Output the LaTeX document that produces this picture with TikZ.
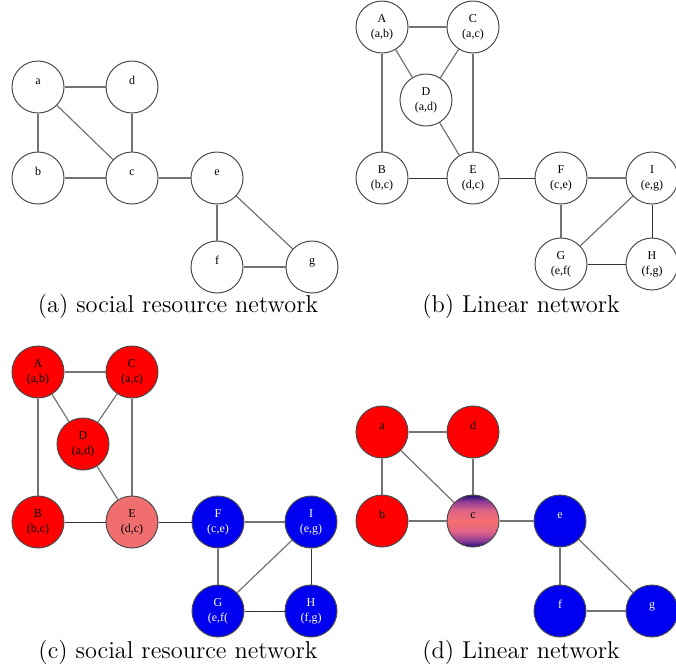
\documentclass[tikz,border=0pt]{standalone}
\usepackage{fontspec}
\newfontfamily\vtxfont{Liberation Serif}
\usepackage{xcolor}
\definecolor{nodered}{RGB}{255,0,0}
\definecolor{nodeblue}{RGB}{0,0,240}
\definecolor{lightred}{RGB}{240,110,110}
\definecolor{deeppurple}{RGB}{30,10,110}
\definecolor{midpurple}{RGB}{140,60,150}
\definecolor{pinkish}{RGB}{225,100,135}
\definecolor{salmon}{RGB}{245,112,112}
\definecolor{edgegray}{RGB}{115,115,115}
\pgfdeclareverticalshading{cband}{100bp}{color(0bp)=(deeppurple); color(25bp)=(deeppurple);
  color(31bp)=(midpurple); color(40bp)=(pinkish); color(50bp)=(salmon); color(60bp)=(pinkish);
  color(69bp)=(midpurple); color(75bp)=(deeppurple); color(100bp)=(deeppurple)}

\begin{document}
\begin{tikzpicture}[
    x=0.5pt,
    y=-0.5pt,
    every node/.style={font=\vtxfont\fontsize{6}{7.5}\selectfont},
    vertex/.style={draw=black!70, circle, minimum size=26pt, inner sep=0pt, align=center, line width=0.5pt},
    upper/.style={text height=3pt, text depth=6pt},
    redv/.style={vertex, fill=nodered},
    bluev/.style={vertex, fill=nodeblue, text=white},
    pinkv/.style={vertex, fill=lightred},
    mixv/.style={vertex, shading=cband},
    link/.style={draw=edgegray, line width=0.6pt},
    darklink/.style={draw=black!80, line width=0.5pt},
    caption/.style={font=\fontsize{12.2}{14}\selectfont}
]
    \useasboundingbox (0,0) rectangle (676,666);

    \node[vertex, upper] (na) at (38,87) {a};
    \node[vertex, upper] (nd) at (132,87) {d};
    \node[vertex, upper] (nb) at (38,178) {b};
    \node[vertex, upper] (nc) at (132,178) {c};
    \node[vertex, upper] (ne) at (217,178) {e};
    \node[vertex, upper] (nf) at (217,267) {f};
    \node[vertex, upper] (ng) at (312,267) {g};
    \draw[link] (na) -- (nd);
    \draw[link] (na) -- (nb);
    \draw[link] (na) -- (nc);
    \draw[link] (nd) -- (nc);
    \draw[link] (nb) -- (nc);
    \draw[link] (nc) -- (ne);
    \draw[link] (ne) -- (nf);
    \draw[link] (ne) -- (ng);
    \draw[link] (nf) -- (ng);
    \node[caption] (capa) at (178,306) {(a) social resource network};

    \node[vertex] (lA) at (382,27) {A\\(a,b)};
    \node[vertex] (lC) at (473,27) {C\\(a,c)};
    \node[vertex] (lD) at (426,100) {D\\(a,d)};
    \node[vertex] (lB) at (382,178) {B\\(b,c)};
    \node[vertex] (lE) at (473,178) {E\\(d,c)};
    \node[vertex] (lF) at (561,178) {F\\(c,e)};
    \node[vertex] (lI) at (652,178) {I\\(e,g)};
    \node[vertex] (lG) at (561,264) {G\\(e,f(};
    \node[vertex] (lH) at (652,264) {H\\(f,g)};
    \draw[link] (lA) -- (lC);
    \draw[link] (lA) -- (lD);
    \draw[link] (lC) -- (lD);
    \draw[link] (lC) -- (lE);
    \draw[link] (lA) -- (lB);
    \draw[link] (lD) -- (lE);
    \draw[darklink] (lB) -- (lE);
    \draw[darklink] (lE) -- (lF);
    \draw[link] (lF) -- (lI);
    \draw[link] (lF) -- (lG);
    \draw[link] (lG) -- (lI);
    \draw[darklink] (lI) -- (lH);
    \draw[darklink] (lG) -- (lH);
    \node[caption] (capb) at (521,306) {(b) Linear network};

    \node[redv] (cA) at (38,372) {A\\(a,b)};
    \node[redv] (cC) at (132,372) {C\\(a,c)};
    \node[redv] (cD) at (83,444) {D\\(a,d)};
    \node[redv] (cB) at (38,522) {B\\(b,c)};
    \node[pinkv] (cE) at (132,522) {E\\(d,c)};
    \node[bluev] (cF) at (218,522) {F\\(c,e)};
    \node[bluev] (cI) at (311,522) {I\\(e,g)};
    \node[bluev] (cG) at (218,611) {G\\(e,f(};
    \node[bluev] (cH) at (311,611) {H\\(f,g)};
    \draw[link] (cA) -- (cC);
    \draw[link] (cA) -- (cD);
    \draw[link] (cC) -- (cD);
    \draw[link] (cC) -- (cE);
    \draw[link] (cA) -- (cB);
    \draw[link] (cD) -- (cE);
    \draw[darklink] (cB) -- (cE);
    \draw[darklink] (cE) -- (cF);
    \draw[link] (cF) -- (cI);
    \draw[link] (cF) -- (cG);
    \draw[link] (cG) -- (cI);
    \draw[darklink] (cI) -- (cH);
    \draw[darklink] (cG) -- (cH);
    \node[caption] (capc) at (178,652) {(c) social resource network};

    \node[redv, upper] (da) at (382,432) {a};
    \node[redv, upper] (dd) at (473,432) {d};
    \node[redv, upper] (db) at (382,521) {b};
    \node[mixv, upper] (dc) at (473,521) {c};
    \node[bluev, upper] (de) at (560,521) {e};
    \node[bluev, upper] (df) at (560,611) {f};
    \node[bluev, upper] (dg) at (652,611) {g};
    \draw[link] (da) -- (dd);
    \draw[link] (da) -- (db);
    \draw[link] (da) -- (dc);
    \draw[link] (dd) -- (dc);
    \draw[link] (db) -- (dc);
    \draw[link] (dc) -- (de);
    \draw[link] (de) -- (df);
    \draw[link] (de) -- (dg);
    \draw[link] (df) -- (dg);
    \node[caption] (capd) at (521,652) {(d) Linear network};
\end{tikzpicture}
\end{document}
